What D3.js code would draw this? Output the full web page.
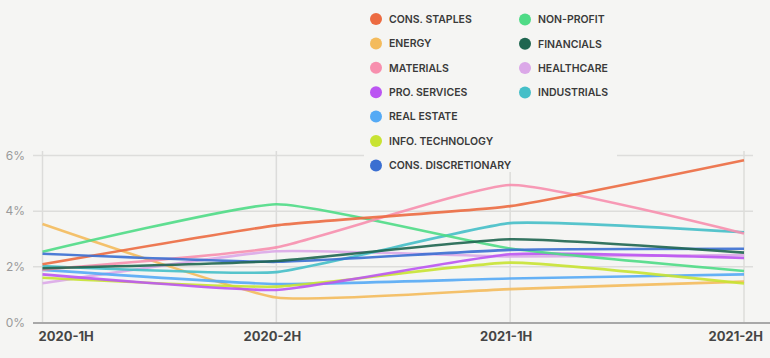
<!DOCTYPE html>
<html><head><meta charset="utf-8">
<script src="https://cdn.jsdelivr.net/npm/d3@7"></script>
<style>
html,body{margin:0;padding:0;background:#f5f5f3;}
svg{display:block;font-family:Inter, "Noto Sans", sans-serif;}
</style></head>
<body><svg id="c" width="770" height="358"></svg>
<script>
const periods = ["2020-1H","2020-2H","2021-1H","2021-2H"];
const yTicks = [0,2,4,6];
const seriesNames = ["CONS. STAPLES","ENERGY","MATERIALS","PRO. SERVICES","REAL ESTATE","INFO. TECHNOLOGY","CONS. DISCRETIONARY","NON-PROFIT","FINANCIALS","HEALTHCARE","INDUSTRIALS"];
const seriesColors = ["#ec6b41","#f4bb5c","#f78fae","#bb55f2","#55aaf5","#c8e332","#3b6fd1","#4fdb86","#1f6650","#dba8e8","#45bfc8"];
const consStaples = [2.09,3.49,4.18,5.83];
const energy = [3.54,0.90,1.20,1.47];
const materials = [1.90,2.70,4.94,3.20];
const proServices = [1.73,1.17,2.45,2.32];
const realEstate = [1.89,1.38,1.58,1.73];
const infoTech = [1.61,1.29,2.15,1.40];
const consDisc = [2.47,2.18,2.61,2.65];
const nonProfit = [2.54,4.25,2.66,1.85];
const financials = [1.95,2.21,2.99,2.51];
const healthcare = [1.41,2.56,2.37,2.42];
const industrials = [2.03,1.81,3.57,3.24];
const seriesValues = [consStaples,energy,materials,proServices,realEstate,infoTech,consDisc,nonProfit,financials,healthcare,industrials];
const drawOrder = [1,9,4,5,3,10,7,2,0,6,8];

const svg = d3.select("#c");
const x = d3.scalePoint().domain(periods).range([42.5,744]);
const y = d3.scaleLinear().domain([0,6]).range([322.5,155.5]);

// horizontal grid
svg.append("g").selectAll("line").data(yTicks.slice(1)).join("line")
  .attr("x1",33).attr("x2",753).attr("y1",d=>y(d)).attr("y2",d=>y(d))
  .attr("stroke","#dddddb").attr("stroke-width",1.5);
// vertical grid
svg.append("g").selectAll("line").data(periods).join("line")
  .attr("x1",d=>x(d)).attr("x2",d=>x(d)).attr("y1",151).attr("y2",322)
  .attr("stroke","#dcdcda").attr("stroke-width",1.5);
// y labels
svg.append("g").selectAll("text").data(yTicks).join("text")
  .attr("x",25).attr("y",d=>y(d)).attr("dy","0.35em").attr("text-anchor","end")
  .attr("fill","#9a9a9a").attr("font-size",12).text(d=>d+"%");

// lines
const line = d3.line().x((d,i)=>x(periods[i])).y(d=>y(d)).curve(d3.curveCardinal.tension(0.55));
svg.append("g").selectAll("path").data(drawOrder).join("path")
  .attr("d",k=>line(seriesValues[k])).attr("fill","none")
  .attr("stroke",k=>seriesColors[k]).attr("stroke-width",2.6).attr("stroke-opacity",0.9);

// bottom axis line
svg.append("line").attr("x1",33).attr("x2",770).attr("y1",323).attr("y2",323)
  .attr("stroke","#a8a8a8").attr("stroke-width",2);
// x labels
svg.append("g").selectAll("text").data(periods).join("text")
  .attr("x",(d,i)=> i===periods.length-1 ? 763 : x(d)-4)
  .attr("y",341).attr("text-anchor",(d,i)=> i===0?"start":(i===periods.length-1?"end":"middle"))
  .attr("fill","#454545").attr("font-size",13).attr("font-weight",700).text(d=>d);

// legend
const lg = svg.append("g");
lg.append("rect").attr("x",364).attr("y",0).attr("width",253).attr("height",172).attr("fill","#f5f5f3");
const col1 = [0,1,2,3,4,5,6], col2 = [7,8,9,10];
const items = col1.map((k,i)=>({k,cx:376,cy:19+i*24.4})).concat(col2.map((k,i)=>({k,cx:525,cy:19.5+i*24.3})));
const it = lg.selectAll("g").data(items).join("g");
it.append("circle").attr("cx",d=>d.cx).attr("cy",d=>d.cy).attr("r",6).attr("fill",d=>seriesColors[d.k]);
it.append("text").attr("x",d=>d.cx+13).attr("y",d=>d.cy).attr("dy","0.36em")
  .attr("fill","#3a3a3a").attr("font-size",10.5).attr("font-weight",600).attr("letter-spacing","0px")
  .text(d=>seriesNames[d.k]);
</script></body></html>
